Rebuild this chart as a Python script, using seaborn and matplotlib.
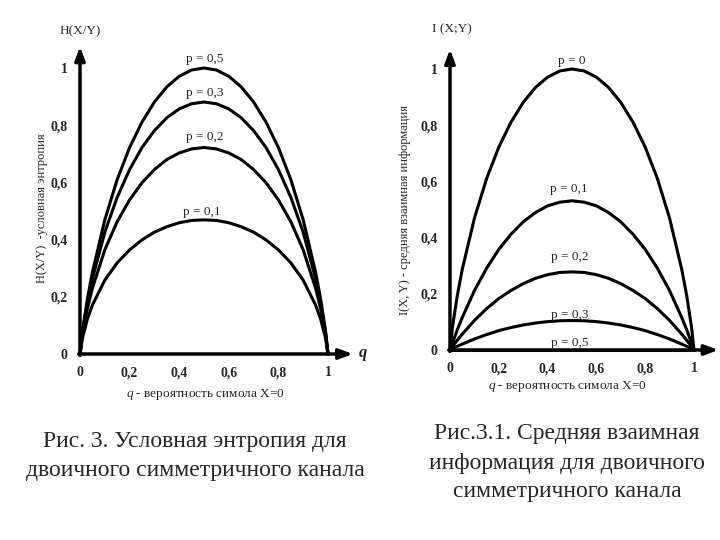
import matplotlib
matplotlib.use("Agg")
import matplotlib.pyplot as plt
import seaborn as sns

sns.set_style("white")
plt.rcParams['font.family'] = ['Liberation Serif', 'DejaVu Serif']
plt.rcParams['mathtext.fontset'] = 'custom'
plt.rcParams['mathtext.it'] = 'Liberation Serif:italic'
plt.rcParams['mathtext.rm'] = 'Liberation Serif'

# q values (probability of symbol X=0)
q = [0, 0.01, 0.03, 0.05, 0.1, 0.15, 0.2, 0.25, 0.3, 0.35, 0.4, 0.45, 0.5,
     0.55, 0.6, 0.65, 0.7, 0.75, 0.8, 0.85, 0.9, 0.95, 0.97, 0.99, 1]

# Left chart: conditional entropy H(X/Y)
h_p05 = [0, .081, .194, .286, .469, .610, .722, .811, .881, .934, .971, .993, 1.0,
         .993, .971, .934, .881, .811, .722, .610, .469, .286, .194, .081, 0]
h_p03 = [0, .076, .180, .263, .426, .548, .645, .722, .781, .826, .857, .875, .881,
         .875, .857, .826, .781, .722, .645, .548, .426, .263, .180, .076, 0]
h_p02 = [0, .069, .160, .230, .364, .463, .539, .599, .645, .680, .703, .717, .722,
         .717, .703, .680, .645, .599, .539, .463, .364, .230, .160, .069, 0]
h_p01 = [0, .056, .123, .171, .258, .319, .364, .399, .426, .445, .459, .467, .469,
         .467, .459, .445, .426, .399, .364, .319, .258, .171, .123, .056, 0]

# Right chart: mutual information I(X;Y)
i_p0 = [0, .081, .194, .286, .469, .610, .722, .811, .881, .934, .971, .993, 1.0,
        .993, .971, .934, .881, .811, .722, .610, .469, .286, .194, .081, 0]
i_p01 = [0, .025, .072, .115, .211, .291, .358, .412, .456, .489, .513, .526, .531,
         .526, .513, .489, .456, .412, .358, .291, .211, .115, .072, .025, 0]
i_p02 = [0, .012, .035, .056, .105, .147, .183, .212, .236, .255, .268, .276, .278,
         .276, .268, .255, .236, .212, .183, .147, .105, .056, .035, .012, 0]
i_p03 = [0, .005, .013, .021, .039, .055, .069, .080, .089, .096, .101, .104, .105,
         .104, .101, .096, .089, .080, .069, .055, .039, .021, .013, .005, 0]
i_p05 = [0] * 25

left_labels = ["p = 0,5", "p = 0,3", "p = 0,2", "p = 0,1"]
right_labels = ["p = 0", "p = 0,1", "p = 0,2", "p = 0,3", "p = 0,5"]

tick_vals = [0, 0.2, 0.4, 0.6, 0.8, 1]
tick_text = ["0", "0,2", "0,4", "0,6", "0,8", "1"]

W, H = 720, 540
fig = plt.figure(figsize=(7.2, 5.4), dpi=100)


def px_axes(x0, y0, x1, y1, xmax, ymax):
    # x0,y0: pixel of data (0,0); x1: pixel of x=1; y1: pixel of y=1
    sx = x1 - x0
    sy = y0 - y1
    return fig.add_axes([x0 / W, (H - y0) / H, sx * xmax / W, sy * ymax / H])


def setup(ax, xmax, ymax):
    ax.set_xlim(0, xmax)
    ax.set_ylim(0, ymax)
    for s in ax.spines.values():
        s.set_visible(False)
    ax.set_xticks(tick_vals, tick_text)
    ax.set_yticks(tick_vals, tick_text)
    ax.tick_params(length=0, labelsize=10, pad=9)
    for t in ax.get_xticklabels() + ax.get_yticklabels():
        t.set_fontweight("bold")
    ax.set_xlabel("")
    ax.set_ylabel("")
    ax.annotate("", xy=(xmax, 0), xytext=(-0.005, 0),
                arrowprops=dict(arrowstyle="-|>,head_length=0.8,head_width=0.3",
                                lw=2.5, color="black", shrinkA=0, shrinkB=0),
                annotation_clip=False)
    ax.annotate("", xy=(0, ymax - 0.015), xytext=(0, -0.005),
                arrowprops=dict(arrowstyle="-|>,head_length=0.8,head_width=0.3",
                                lw=2.5, color="black", shrinkA=0, shrinkB=0),
                annotation_clip=False)


# Left panel
axL = px_axes(80, 354, 328, 68, 1.1, 1.09)
setup(axL, 1.1, 1.09)
for vals in [h_p05, h_p03, h_p02, h_p01]:
    sns.lineplot(x=q, y=vals, ax=axL, color="black", lw=2.2, clip_on=False)

# Right panel
axR = px_axes(450, 350, 694, 69, 1.1, 1.085)
setup(axR, 1.1, 1.085)
for vals in [i_p0, i_p01, i_p02, i_p03, i_p05]:
    sns.lineplot(x=q, y=vals, ax=axR, color="black", lw=2.2, clip_on=False)


def ftext(x, y, s, **kw):
    fig.text(x / W, 1 - y / H, s, **kw)


# Left annotations
for (x, y), s in zip([(205, 59), (205, 93), (205, 137), (202, 212)], left_labels):
    ftext(x, y, s, ha="center", va="center", fontsize=9.5)
ftext(80, 31, "H(X/Y)", ha="center", va="center", fontsize=9.5)
ftext(42, 208, "H(X/Y)  -условная энтропия", ha="center", va="center",
      fontsize=9, rotation=90)
ftext(363, 353, "q", ha="center", va="center", fontsize=12,
      style="italic", fontweight="bold")
ftext(205, 395, "$q$ - вероятность симола X=0", ha="center", va="center",
      fontsize=9.5)

# Right annotations
for (x, y), s in zip([(572, 61), (569, 189), (570, 257), (570, 315), (570, 343)],
                     right_labels):
    ftext(x, y, s, ha="center", va="center", fontsize=9.5)
ftext(452, 29, "I (X;Y)", ha="center", va="center", fontsize=9.5)
ftext(405, 210, "I(X, Y) - средняя взаимная информация", ha="center",
      va="center", fontsize=9, rotation=90)
ftext(567, 387, "$q$ - вероятность симола X=0", ha="center", va="center",
      fontsize=9.5)

# Captions
ftext(195, 456, "Рис. 3. Условная энтропия для\nдвоичного симметричного канала",
      ha="center", va="center", fontsize=17, linespacing=1.5)
ftext(567, 463, "Рис.3.1. Средняя взаимная\nинформация для двоичного\nсимметричного канала",
      ha="center", va="center", fontsize=17, linespacing=1.5)

fig.savefig("out.png", dpi=100)
